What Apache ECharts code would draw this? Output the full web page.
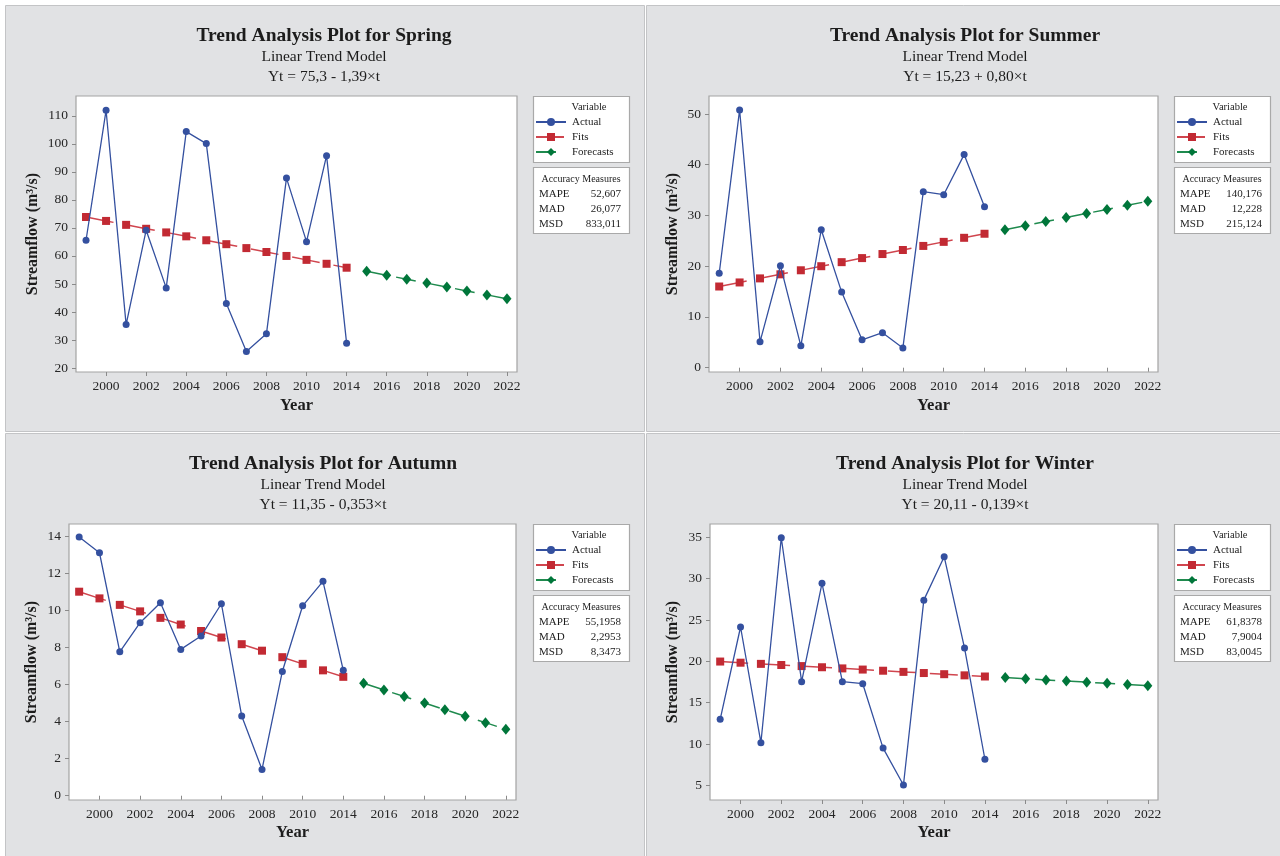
<!DOCTYPE html>
<html>
<head>
<meta charset="utf-8">
<title>Trend Analysis Plots</title>
<script src="https://cdn.jsdelivr.net/npm/echarts@6/dist/echarts.min.js"></script>
<style>
  html, body { margin: 0; padding: 0; background: #ffffff; }
  #chart { width: 1280px; height: 856px; }
</style>
</head>
<body>
<div id="chart"></div>
<script>
// Periods: observed years (2012 and 2013 are absent) and forecast years
const observedYears = ['1999', '2000', '2001', '2002', '2003', '2004', '2005', '2006', '2007', '2008', '2009', '2010', '2011', '2014'];
const forecastYears = ['2015', '2016', '2017', '2018', '2019', '2020', '2021', '2022'];

// Spring streamflow (m³/s)
const springActual = [65.6, 112.0, 35.5, 69.2, 48.6, 104.4, 100.1, 43.0, 25.9, 32.2, 87.8, 65.1, 95.8, 28.8];
const springFits = [73.9, 72.5, 71.1, 69.7, 68.4, 67.0, 65.6, 64.2, 62.8, 61.4, 60.0, 58.6, 57.2, 55.8];
const springForecasts = [54.5, 53.1, 51.7, 50.3, 48.9, 47.5, 46.1, 44.7];
const springYTicks = [20, 30, 40, 50, 60, 70, 80, 90, 100, 110];
const springEquation = 'Yt = 75,3 - 1,39×t';
const springAccuracy = ['52,607', '26,077', '833,011'];

// Summer streamflow (m³/s)
const summerActual = [18.6, 50.8, 5.1, 20.1, 4.3, 27.2, 14.9, 5.5, 6.9, 3.9, 34.7, 34.1, 42.0, 31.7];
const summerFits = [16.0, 16.8, 17.6, 18.4, 19.2, 20.0, 20.8, 21.6, 22.4, 23.2, 24.0, 24.8, 25.6, 26.4];
const summerForecasts = [27.2, 28.0, 28.8, 29.6, 30.4, 31.2, 32.0, 32.8];
const summerYTicks = [0, 10, 20, 30, 40, 50];
const summerEquation = 'Yt = 15,23 + 0,80×t';
const summerAccuracy = ['140,176', '12,228', '215,124'];

// Autumn streamflow (m³/s)
const autumnActual = [13.95, 13.1, 7.76, 9.33, 10.4, 7.89, 8.61, 10.35, 4.3, 1.42, 6.7, 10.24, 11.56, 6.76];
const autumnFits = [11.0, 10.64, 10.29, 9.94, 9.59, 9.23, 8.88, 8.53, 8.17, 7.82, 7.47, 7.11, 6.76, 6.41];
const autumnForecasts = [6.06, 5.7, 5.35, 5.0, 4.64, 4.29, 3.94, 3.58];
const autumnYTicks = [0, 2, 4, 6, 8, 10, 12, 14];
const autumnEquation = 'Yt = 11,35 - 0,353×t';
const autumnAccuracy = ['55,1958', '2,2953', '8,3473'];

// Winter streamflow (m³/s)
const winterActual = [12.98, 24.15, 10.15, 34.95, 17.53, 29.43, 17.53, 17.29, 9.5, 5.04, 27.4, 32.65, 21.6, 8.15];
const winterFits = [19.97, 19.83, 19.69, 19.55, 19.42, 19.28, 19.14, 19.0, 18.86, 18.72, 18.58, 18.44, 18.3, 18.16];
const winterForecasts = [18.03, 17.89, 17.75, 17.61, 17.47, 17.33, 17.19, 17.05];
const winterYTicks = [5, 10, 15, 20, 25, 30, 35];
const winterEquation = 'Yt = 20,11 - 0,139×t';
const winterAccuracy = ['61,8378', '7,9004', '83,0045'];

const seriesNames = ['Actual', 'Fits', 'Forecasts'];
const accuracyNames = ['MAPE', 'MAD', 'MSD'];

const SERIF = '"Liberation Serif", "Times New Roman", serif';
const TEXT = '#1c1c1c';
const C_ACTUAL = '#34509f';
const C_FITS = '#c22a33';
const C_FORE = '#00763a';

const categories = observedYears.concat(forecastYears);

const panels = [
  { season: 'Spring', actual: springActual, fits: springFits, forecasts: springForecasts,
    yTicks: springYTicks, eq: springEquation, acc: springAccuracy, yMin: 18.57, yMax: 117.1,
    grid: { left: 76, top: 96, width: 441, height: 276 }, cx: 324, ty: 36, box: { x: 533, y: 96 }, yGap: 35, xGap: 25 },
  { season: 'Summer', actual: summerActual, fits: summerFits, forecasts: summerForecasts,
    yTicks: summerYTicks, eq: summerEquation, acc: summerAccuracy, yMin: -0.85, yMax: 53.55,
    grid: { left: 709, top: 96, width: 449, height: 276 }, cx: 965, ty: 36, box: { x: 1174, y: 96 }, yGap: 28, xGap: 25 },
  { season: 'Autumn', actual: autumnActual, fits: autumnFits, forecasts: autumnForecasts,
    yTicks: autumnYTicks, eq: autumnEquation, acc: autumnAccuracy, yMin: -0.23, yMax: 14.65,
    grid: { left: 69, top: 524, width: 447, height: 276 }, cx: 323, ty: 464, box: { x: 533, y: 524 }, yGap: 29, xGap: 24 },
  { season: 'Winter', actual: winterActual, fits: winterFits, forecasts: winterForecasts,
    yTicks: winterYTicks, eq: winterEquation, acc: winterAccuracy, yMin: 3.22, yMax: 36.61,
    grid: { left: 710, top: 524, width: 448, height: 276 }, cx: 965, ty: 464, box: { x: 1174, y: 524 }, yGap: 29, xGap: 24 }
];

// Every other period carries a tick and a label
const everyOther = (index) => index % 2 === 1;

const grids = [], xAxes = [], yAxes = [], series = [], legends = [], graphics = [];

// Grey panel backgrounds
[[5, 5, 639, 426], [646, 5, 640, 426], [5, 433, 639, 430], [646, 433, 640, 430]].forEach(r => {
  graphics.push({ type: 'rect', z: -100, silent: true,
    shape: { x: r[0] + 0.5, y: r[1] + 0.5, width: r[2], height: r[3] },
    style: { fill: '#e1e2e4', stroke: '#c3c4c6', lineWidth: 1 } });
});

function text(x, y, str, font, align, extra) {
  return Object.assign({ type: 'text', x: x, y: y, silent: true,
    style: { text: str, font: font, fill: TEXT, align: align, textAlign: align,
             verticalAlign: 'middle', textVerticalAlign: 'middle' } }, extra || {});
}

panels.forEach((p, i) => {
  grids.push(Object.assign({ show: true, backgroundColor: '#ffffff', borderColor: '#a3a3a3', borderWidth: 1.2, containLabel: false }, p.grid));

  xAxes.push({
    type: 'category', gridIndex: i, data: categories, boundaryGap: true,
    name: 'Year', nameLocation: 'middle', nameGap: p.xGap,
    nameTextStyle: { fontFamily: SERIF, fontWeight: 'bold', fontSize: 16.5, color: TEXT },
    axisLine: { show: false },
    axisTick: { show: true, alignWithLabel: true, interval: everyOther, length: 4, lineStyle: { color: '#8a8a8a' } },
    axisLabel: { interval: everyOther, margin: 7, fontFamily: SERIF, fontSize: 13.5, color: '#262626' },
    splitLine: { show: false }
  });

  yAxes.push({
    type: 'value', gridIndex: i, min: p.yMin, max: p.yMax,
    name: 'Streamflow (m³/s)', nameLocation: 'middle', nameRotate: 90, nameGap: p.yGap,
    nameTextStyle: { fontFamily: SERIF, fontWeight: 'bold', fontSize: 16, color: TEXT },
    axisLine: { show: false },
    axisTick: { show: true, length: 4, customValues: p.yTicks, lineStyle: { color: '#8a8a8a' } },
    axisLabel: { customValues: p.yTicks, margin: 8, fontFamily: SERIF, fontSize: 13.5, color: '#262626' },
    splitLine: { show: false }
  });

  series.push({
    name: 'Actual', type: 'line', xAxisIndex: i, yAxisIndex: i,
    data: observedYears.map((y, k) => [y, p.actual[k]]),
    symbol: 'circle', symbolSize: 7,
    lineStyle: { color: C_ACTUAL, width: 1.3 }, itemStyle: { color: C_ACTUAL },
    emphasis: { disabled: true }, animation: false, z: 3
  });
  series.push({
    name: 'Fits', type: 'line', xAxisIndex: i, yAxisIndex: i,
    data: observedYears.map((y, k) => [y, p.fits[k]]),
    symbol: 'rect', symbolSize: 8,
    lineStyle: { color: '#d0454e', width: 1.5, type: [28, 14] }, itemStyle: { color: C_FITS },
    emphasis: { disabled: true }, animation: false, z: 2
  });
  series.push({
    name: 'Forecasts', type: 'line', xAxisIndex: i, yAxisIndex: i,
    data: forecastYears.map((y, k) => [y, p.forecasts[k]]),
    symbol: 'diamond', symbolSize: [9, 11],
    lineStyle: { color: '#1f8a4e', width: 1.5, type: [20, 10] }, itemStyle: { color: C_FORE },
    emphasis: { disabled: true }, animation: false, z: 2
  });

  // Legend box with "Variable" heading
  const bx = p.box.x, by = p.box.y;
  graphics.push({ type: 'rect', silent: true, z: 1,
    shape: { x: bx + 0.5, y: by + 0.5, width: 96, height: 66 },
    style: { fill: '#ffffff', stroke: '#a9a9a9', lineWidth: 1.2 } });
  graphics.push(text(bx + 56, by + 11, 'Variable', '10.5px ' + SERIF, 'center', { z: 2 }));
  legends.push({
    orient: 'vertical', left: bx + 2, top: by + 20, padding: 0,
    itemWidth: 30, itemHeight: 10, itemGap: 3, selectedMode: false,
    data: seriesNames,
    textStyle: { fontFamily: SERIF, fontSize: 11, lineHeight: 12, color: TEXT, padding: [0, 0, 0, 1] },
    z: 3
  });

  // Accuracy measures box
  const ay = by + 71;
  graphics.push({ type: 'rect', silent: true, z: 1,
    shape: { x: bx + 0.5, y: ay + 0.5, width: 96, height: 66 },
    style: { fill: '#ffffff', stroke: '#a9a9a9', lineWidth: 1.2 } });
  graphics.push(text(bx + 48, ay + 12, 'Accuracy Measures', '10px ' + SERIF, 'center', { z: 2 }));
  accuracyNames.forEach((n, k) => {
    graphics.push(text(bx + 6, ay + 27 + k * 15, n, '11px ' + SERIF, 'left', { z: 2 }));
    graphics.push(text(bx + 88, ay + 27 + k * 15, p.acc[k], '11px ' + SERIF, 'right', { z: 2 }));
  });

  // Titles
  graphics.push(text(p.cx, p.ty, 'Trend Analysis Plot for ' + p.season, 'bold 19.5px ' + SERIF, 'center', { z: 2 }));
  graphics.push(text(p.cx, p.ty + 21, 'Linear Trend Model', '15.5px ' + SERIF, 'center', { z: 2 }));
  graphics.push(text(p.cx, p.ty + 41, p.eq, '15.5px ' + SERIF, 'center', { z: 2 }));
});

const chart = echarts.init(document.getElementById('chart'), null, { renderer: 'canvas' });
chart.setOption({
  backgroundColor: '#ffffff',
  animation: false,
  textStyle: { fontFamily: SERIF },
  grid: grids,
  xAxis: xAxes,
  yAxis: yAxes,
  legend: legends,
  series: series,
  graphic: graphics
});
</script>
</body>
</html>
